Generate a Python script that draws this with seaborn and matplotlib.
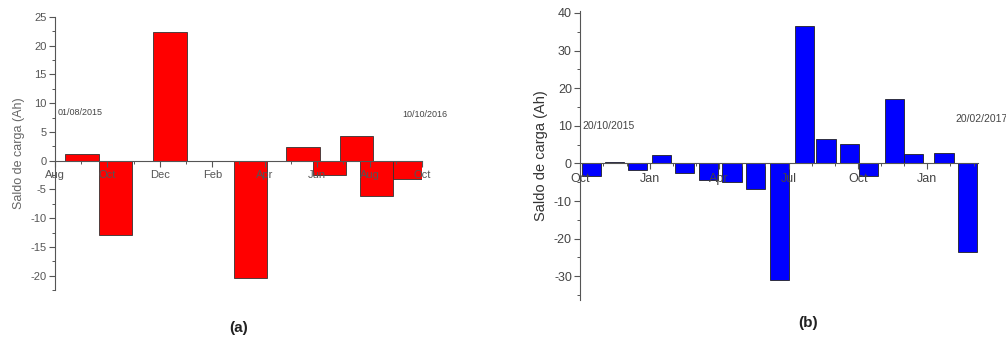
import numpy as np
import pandas as pd
import matplotlib
matplotlib.use("Agg")
import matplotlib.pyplot as plt
from matplotlib.ticker import MultipleLocator, FixedLocator
import seaborn as sns

# ---------------- data ----------------
# (a) months counted from Aug 2015 (0 = Aug 2015)
a_month = [1.03, 2.32, 4.39, 7.46, 9.46, 10.48, 11.49, 12.26, 13.52]
a_value = [1.2, -13.0, 22.4, -20.4, 2.45, -2.45, 4.25, -6.1, -3.2]
a_tick_pos = [0, 2, 4, 6, 8, 10, 12, 14]
a_tick_lab = ["Aug", "Oct", "Dec", "Feb", "Apr", "Jun", "Aug", "Oct"]

# (b) months counted from Oct 2015 (0 = Oct 2015)
b_month = [0.49, 1.49, 2.48, 3.51, 4.52, 5.55, 6.56, 7.58, 8.60, 9.69,
           10.62, 11.65, 12.47, 13.58, 14.41, 15.72, 16.74]
b_value = [-3.4, 0.5, -1.8, 2.2, -2.5, -4.4, -4.9, -6.9, -31.1, 36.5,
           6.6, 5.1, -3.4, 17.0, 2.55, 2.8, -23.6]
b_tick_pos = [0, 3, 6, 9, 12, 15]
b_tick_lab = ["Oct", "Jan", "Apr", "Jul", "Oct", "Jan"]

ylabel = "Saldo de carga (Ah)"

sns.set_style("ticks")
plt.rcParams["font.family"] = ["Liberation Sans", "DejaVu Sans"]
plt.rcParams["axes.unicode_minus"] = False

fig = plt.figure(figsize=(10.06, 3.40), dpi=100)
axa = fig.add_axes([0.0547, 0.147, 0.3648, 0.803])
axb = fig.add_axes([0.5768, 0.1176, 0.3956, 0.85])

dfa = pd.DataFrame({"month": a_month, "value": a_value})
dfb = pd.DataFrame({"month": b_month, "value": b_value})

sns.barplot(data=dfa, x="month", y="value", native_scale=True, width=1.65,
            color="#ff0000", saturation=1, errorbar=None, ax=axa,
            edgecolor="#333333", linewidth=0.6)
sns.barplot(data=dfb, x="month", y="value", native_scale=True, width=1.01,
            color="#0000ff", saturation=1, errorbar=None, ax=axb,
            edgecolor="#222222", linewidth=0.6)


def style(ax, xlim, ylim, ymajor, yminor, tpos, tlab, fs, col, lab_fs, lab_col):
    ax.set_xlim(*xlim)
    ax.set_ylim(*ylim)
    ax.set_axisbelow(False)
    for s in ("top", "right"):
        ax.spines[s].set_visible(False)
    ax.spines["bottom"].set_position(("data", 0))
    for s in ("left", "bottom"):
        ax.spines[s].set_color("#555555")
        ax.spines[s].set_linewidth(0.8)
    ax.yaxis.set_major_locator(MultipleLocator(ymajor))
    ax.yaxis.set_minor_locator(MultipleLocator(yminor))
    ax.xaxis.set_major_locator(FixedLocator(tpos))
    ax.xaxis.set_minor_locator(MultipleLocator(1))
    ax.set_xticks(tpos)
    ax.set_xticklabels(tlab)
    ax.tick_params(axis="both", which="major", length=4, width=0.8,
                   color="#555555", labelsize=fs, labelcolor=col, pad=2)
    ax.tick_params(axis="both", which="minor", length=2.5, width=0.7,
                   color="#555555")
    ax.tick_params(axis="x", which="major", pad=3)
    ax.set_xlabel("")
    ax.set_ylabel(ylabel, fontsize=lab_fs, color=lab_col, labelpad=4)
    for p in ax.patches:
        p.set_zorder(1)


style(axa, (0, 14), (-22.5, 25), 5, 2.5, a_tick_pos, a_tick_lab,
      8, "#555555", 9, "#666666")
style(axb, (0, 17.2), (-36.3, 40.5), 10, 5, b_tick_pos, b_tick_lab,
      9, "#444444", 10.5, "#333333")

axa.text(0.1, 8.4, "01/08/2015", fontsize=6.5, color="#444444",
         va="center", ha="left", clip_on=False)
axa.text(13.25, 8.0, "10/10/2016", fontsize=6.5, color="#444444",
         va="center", ha="left", clip_on=False)
axb.text(0.1, 9.9, "20/10/2015", fontsize=7.5, color="#444444",
         va="center", ha="left", clip_on=False)
axb.text(16.2, 11.8, "20/02/2017", fontsize=7.5, color="#444444",
         va="center", ha="left", clip_on=False)

fig.text(0.2376, 0.035, "(a)", fontsize=11, fontweight="bold",
         ha="center", va="center", color="#222222")
fig.text(0.803, 0.05, "(b)", fontsize=11, fontweight="bold",
         ha="center", va="center", color="#222222")

fig.savefig("out.png", dpi=100)
